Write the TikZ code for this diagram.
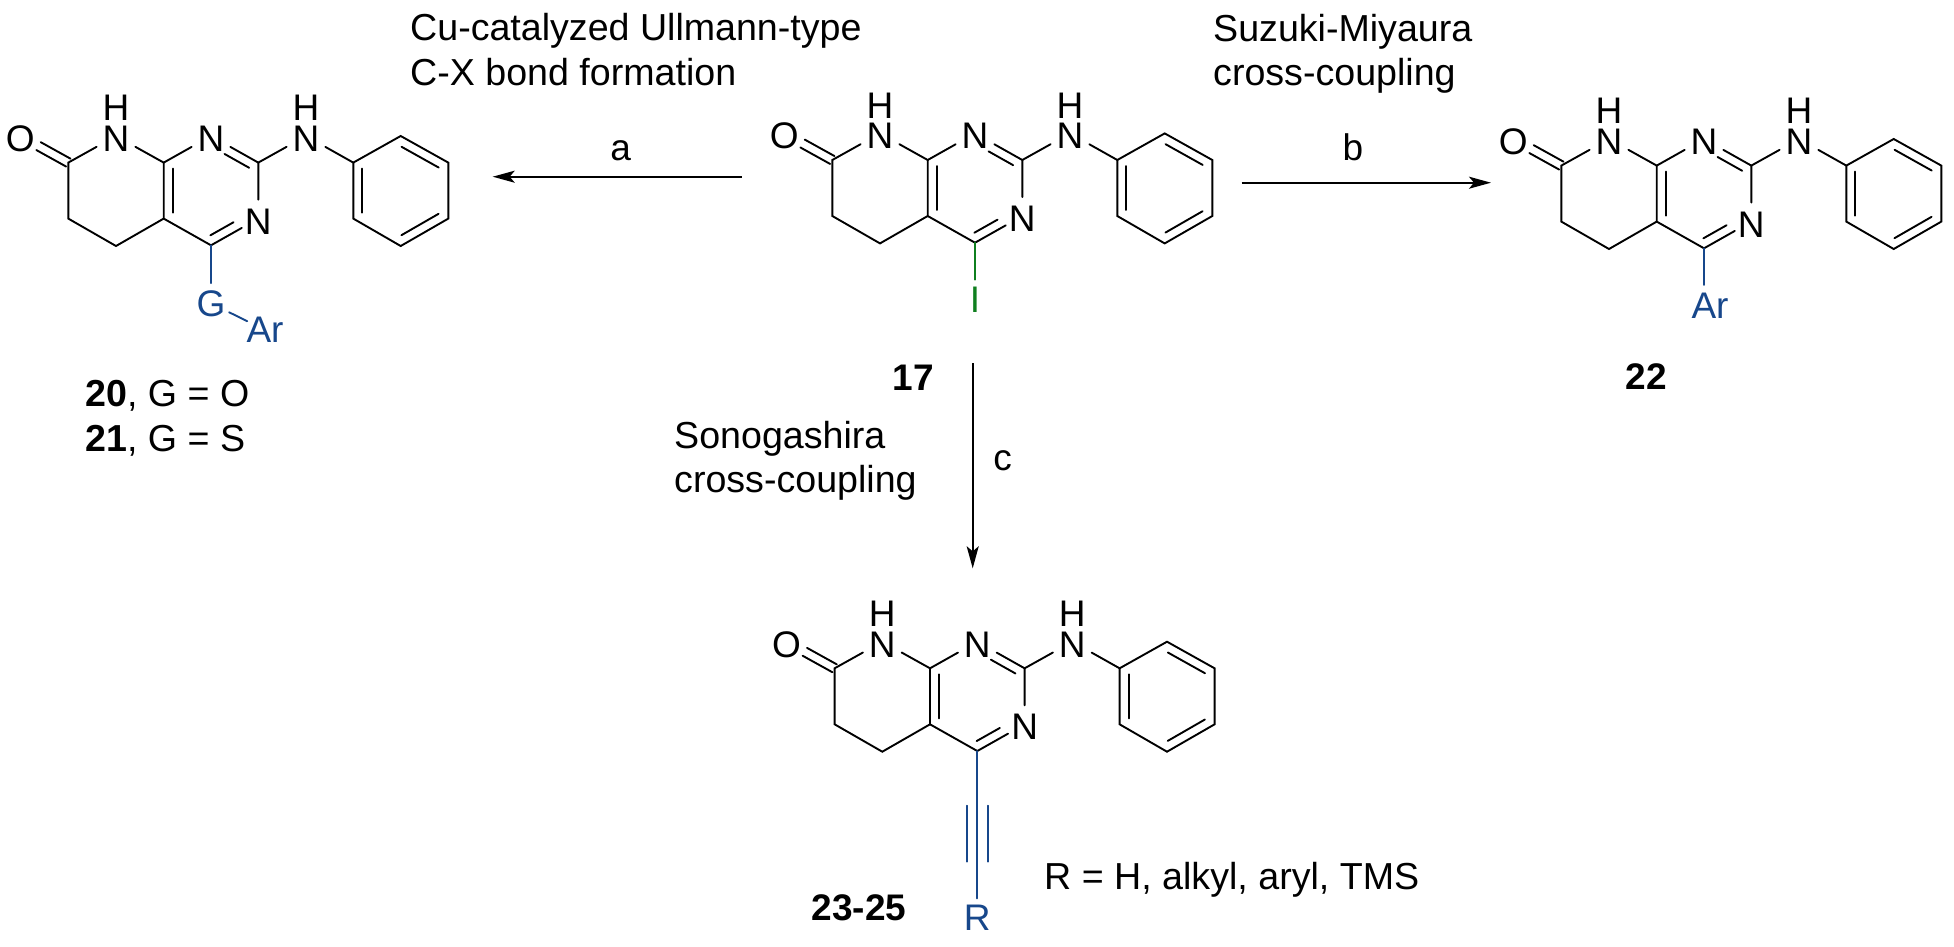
\documentclass[tikz,border=0pt]{standalone}
\usepackage{fontspec}
\setmainfont{Liberation Sans}
\usetikzlibrary{calc,arrows.meta}
\definecolor{subblue}{HTML}{17478B}
\definecolor{subgreen}{HTML}{0F7F1F}
\newcommand\chemfont{\fontsize{37}{44}\selectfont}
\newcommand\labfont{\fontsize{37.6}{44}\selectfont}
\tikzset{
  bond/.style={line width=1.9pt,line cap=round,line join=miter},
  bluebond/.style={bond,draw=subblue},
  greenbond/.style={bond,draw=subgreen},
  atom/.style={circle,inner sep=0pt,minimum size=44pt},
  subst/.style={circle,inner sep=0pt,minimum size=40pt,font=\chemfont},
  lab/.style={inner sep=0pt,anchor=base west,font=\labfont},
  midlab/.style={inner sep=0pt,anchor=base,font=\chemfont},
  rxn/.style={line width=1.7pt,-{Stealth[length=22pt,width=12pt,inset=5pt]}},
}
\newcommand\inbond[5]{\draw[bond] ($(#1)!#3!(#2)!#5pt!90:(#2)$) -- ($(#1)!#4!(#2)!#5pt!90:(#2)$);}
\newcommand\atomat[4][]{%
  \node[atom,#1] (#2) at (#3) {};
  \node[midlab] (#2t) at ($(#2)+(0,15.5)$) {#4};}
\newcommand\scaff[2]{%
\begin{scope}[shift={(#1)},name prefix=#2-]
  \coordinate (C4) at (0,0);
  \coordinate (C2) at (47.3,-82.7);
  \coordinate (C8a) at (-47.3,-82.7);
  \coordinate (C4a) at (-47.3,-26.7);
  \coordinate (C5) at (-95,0.7);
  \coordinate (C6) at (-142.7,-26.7);
  \coordinate (C7) at (-142.7,-82.7);
  \coordinate (P1) at (142.3,-82.7);
  \coordinate (P2) at (189.7,-109.3);
  \coordinate (P3) at (237.3,-82.7);
  \coordinate (P4) at (237.3,-26.7);
  \coordinate (P5) at (189.7,0.7);
  \coordinate (P6) at (142.3,-26.7);
  \atomat[outer sep=-3pt]{N3}{47.3,-26.7}{N}
  \atomat{N1}{0,-109.3}{N}
  \atomat{N8}{-95,-109.3}{N}
  \atomat{NH}{95,-109.3}{N}
  \atomat{O}{-190.7,-109.3}{O}
  \node[midlab] (H8) at (-95,-124.4) {H};
  \node[midlab] (HH) at (95,-124.4) {H};
  \draw[bond] (C4a) -- (C5) -- (C6) -- (C7) -- (N8) -- (C8a) -- (N1);
  \draw[bond] (C8a) -- (C4a) -- (C4) -- (N3) -- (C2) -- (N1);
  \draw[bond] (C2) -- (NH) -- (P1);
  \draw[bond] (P1) -- (P2) -- (P3) -- (P4) -- (P5) -- (P6) -- cycle;
  \inbond{C7}{O}{0}{0.62}{4.5}
  \inbond{C7}{O}{0}{0.62}{-4.5}
  \inbond{C8a}{C4a}{0.107}{0.893}{9}
  \inbond{N1}{C2}{0.38}{0.9}{-9}
  \inbond{C4}{N3}{0.08}{0.57}{9}
  \inbond{P1}{P6}{0.107}{0.893}{9}
  \inbond{P2}{P3}{0.11}{0.89}{-9}
  \inbond{P4}{P5}{0.11}{0.89}{-9}
\end{scope}}
\begin{document}
\begin{tikzpicture}[x=1pt,y=-1pt]
  \useasboundingbox (0,0) rectangle (1954,946);
  \fill[white] (0,0) rectangle (1954,946);
  \scaff{211,245.3}{a}
  \scaff{975,242.7}{s}
  \scaff{1704,248.3}{b}
  \scaff{977.3,751}{c}
  % 17
  \node[subst,text=subgreen,minimum size=39pt] (I17) at (975,299.3) {I};
  \draw[greenbond] (s-C4) -- (I17);
  \node[lab,anchor=base,font=\chemfont] (n17) at (913,390) {\bfseries 17};
  % 20/21
  \node[subst,text=subblue] (G20) at (211,303.3) {G};
  \node[subst,text=subblue,outer sep=-2.6pt] (Ar20) at (265,330) {Ar};
  \draw[bluebond] (a-C4) -- (G20);
  \draw[bluebond] (G20) -- (Ar20);
  \node[lab] (n20) at (85,406.7) {\bfseries 20\mdseries, G = O};
  \node[lab] (n21) at (85,451.7) {\bfseries 21\mdseries, G = S};
  % 22
  \node[midlab,text=subblue] (Ar22) at (1710,318.3) {Ar};
  \coordinate (Ar22end) at (1704,285);
  \draw[bluebond] (b-C4) -- (Ar22end);
  \node[midlab] (n22) at (1646,389) {\bfseries 22};
  % 23-25
  \node[subst,text=subblue,minimum size=39pt] (R23) at (977.3,918) {R};
  \draw[bluebond] (c-C4) -- (R23);
  \coordinate (t1a) at (967,805.7);
  \coordinate (t1b) at (967,861.7);
  \coordinate (t2a) at (988,805.7);
  \coordinate (t2b) at (988,861.7);
  \draw[bluebond] (t1a) -- (t1b);
  \draw[bluebond] (t2a) -- (t2b);
  \node[midlab] (n23) at (859,920) {\bfseries 23-25};
  \node[lab] (Rdef) at (1044,889) {R = H, alkyl, aryl, TMS};
  % reaction arrows
  \coordinate (a0) at (741.7,176.7);
  \coordinate (a1) at (492.7,176.7);
  \coordinate (b0) at (1241.7,182.7);
  \coordinate (b1) at (1491,182.7);
  \coordinate (c0) at (972.7,363.3);
  \coordinate (c1) at (972.7,568.3);
  \draw[rxn] (a0) -- (a1);
  \draw[rxn] (b0) -- (b1);
  \draw[rxn] (c0) -- (c1);
  \node[midlab] (la) at (620.7,160.7) {a};
  \node[midlab] (lb) at (1353,160.7) {b};
  \node[midlab] (lc) at (1002.7,470.7) {c};
  \node[lab] (t1) at (410,40.7) {Cu-catalyzed Ullmann-type};
  \node[lab] (t2) at (410,85) {C-X bond formation};
  \node[lab] (t3) at (1213,41.3) {Suzuki-Miyaura};
  \node[lab] (t4) at (1213,85) {cross-coupling};
  \node[lab] (t5) at (674,448.3) {Sonogashira};
  \node[lab] (t6) at (674,492.7) {cross-coupling};
\end{tikzpicture}
\end{document}
